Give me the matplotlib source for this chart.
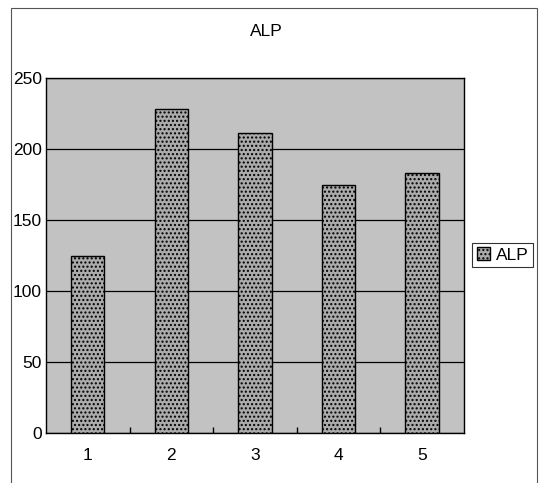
import matplotlib.pyplot as plt
from matplotlib.patches import Rectangle

plt.rcParams['font.family'] = ['Liberation Sans', 'DejaVu Sans']
plt.rcParams['hatch.color'] = '#7a7a7a'

categories = ['1', '2', '3', '4', '5']
alp_values = [125, 228, 211, 175, 183]
y_ticks = [0, 50, 100, 150, 200, 250]

fig = plt.figure(figsize=(5.39, 4.83), dpi=100)
fig.patch.set_facecolor('white')

# outer chart frame like the scanned sheet
fig.add_artist(Rectangle((0.0204, -0.01), 0.976, 0.9934, transform=fig.transFigure,
                         fill=False, edgecolor='#555555', linewidth=0.8))

ax = fig.add_axes([0.0853, 0.1035, 0.7755, 0.735])
ax.set_facecolor('#c2c2c2')

x = list(range(len(categories)))
ax.bar(x, alp_values, width=0.40, color='#ababab', edgecolor='black',
       linewidth=1.0, hatch='....', label='ALP', zorder=3)

ax.set_ylim(0, 250)
ax.set_xlim(-0.5, 4.5)
ax.set_yticks(y_ticks)
ax.set_xticks(x)
ax.set_xticklabels(categories)
ax.set_xticks([0.5, 1.5, 2.5, 3.5], minor=True)
ax.yaxis.grid(True, color='black', linewidth=0.9, zorder=1)
ax.set_axisbelow(True)
ax.tick_params(axis='y', length=0, pad=3, labelsize=12.5)
ax.tick_params(axis='x', which='major', length=0, pad=11, labelsize=12.5)
ax.tick_params(axis='x', which='minor', length=4, direction='in', width=1.0)
for s in ax.spines.values():
    s.set_color('black')
    s.set_linewidth(1.0)

fig.text(0.4935, 0.935, 'ALP', ha='center', va='center', fontsize=12.5)

leg = fig.legend(loc='center left', bbox_to_anchor=(0.876, 0.472), fontsize=12.5,
                 frameon=True, fancybox=False, edgecolor='black',
                 handlelength=0.8, handleheight=0.8, handletextpad=0.3,
                 borderpad=0.25, borderaxespad=0)
leg.get_frame().set_linewidth(0.8)

fig.savefig('out.png', dpi=100)
